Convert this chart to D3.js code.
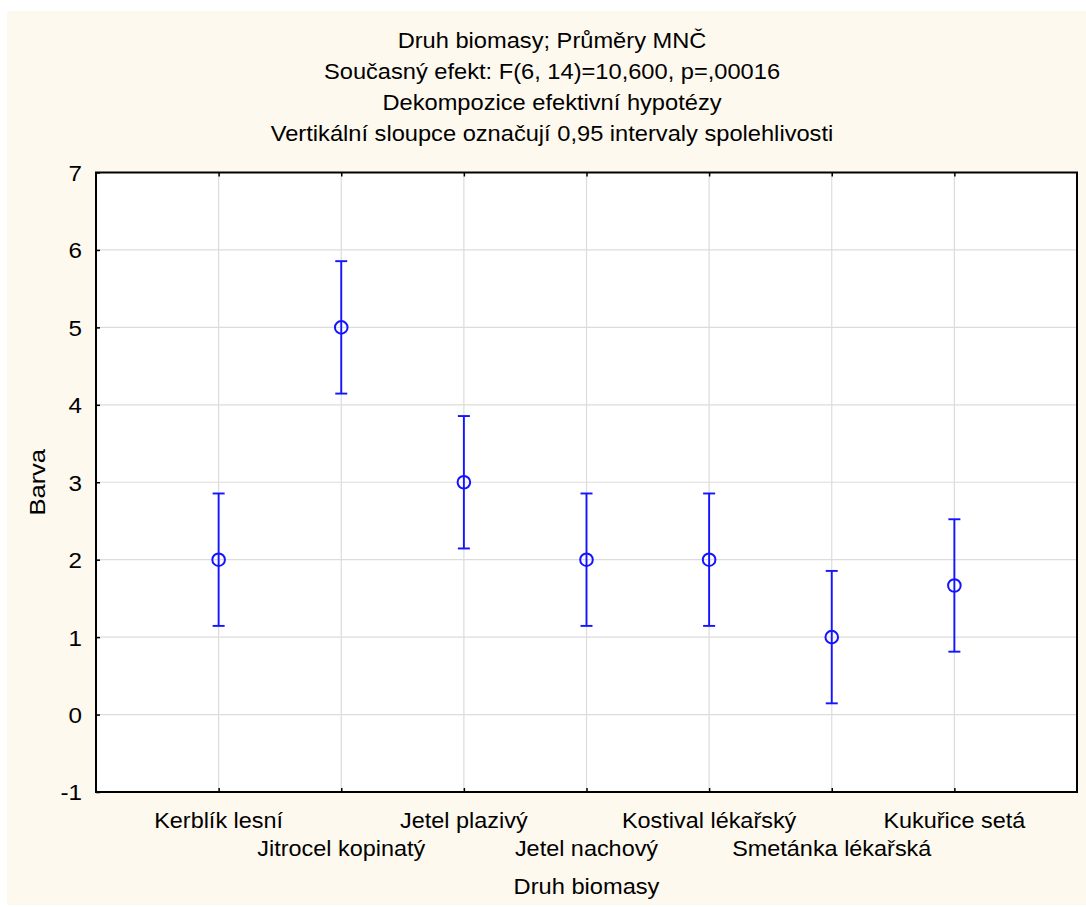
<!DOCTYPE html>
<html><head><meta charset="utf-8">
<script src="https://cdn.jsdelivr.net/npm/d3@7"></script>
<style>html,body{margin:0;padding:0;background:#fff;}svg{display:block;}text{font-family:"Liberation Sans",Arial,sans-serif;fill:#000;}</style>
</head><body>
<script>
const categories = ["Kerblík lesní","Jitrocel kopinatý","Jetel plazivý","Jetel nachový","Kostival lékařský","Smetánka lékařská","Kukuřice setá"];
const means = [2, 5, 3, 2, 2, 1, 1.667];
const ciLow = [1.145, 4.145, 2.145, 1.145, 1.145, 0.145, 0.812];
const ciHigh = [2.855, 5.855, 3.855, 2.855, 2.855, 1.855, 2.522];
const yTicks = [-1, 0, 1, 2, 3, 4, 5, 6, 7];
const titleLines = ["Druh biomasy; Průměry MNČ","Současný efekt: F(6, 14)=10,600, p=,00016","Dekompozice efektivní hypotézy","Vertikální sloupce označují 0,95 intervaly spolehlivosti"];
const xTitle = "Druh biomasy";
const yTitle = "Barva";

const W = 1086, H = 907;
const L = 96, R = 1077, T = 172.5, B = 792;
const FS = 21.5;

const svg = d3.select("body").append("svg").attr("width", W).attr("height", H);
svg.append("rect").attr("x", 7).attr("y", 11).attr("width", W - 7).attr("height", 894).attr("fill", "#fef9ee");

const x = d3.scaleLinear().domain([0, categories.length + 1]).range([L, R]);
const y = d3.scaleLinear().domain([-1, 7]).range([B, T]);

svg.append("rect").attr("x", L).attr("y", T).attr("width", R - L).attr("height", B - T).attr("fill", "#fff");

const g = svg.append("g");
g.selectAll(".hg").data(yTicks.slice(1, -1)).join("line")
  .attr("x1", L).attr("x2", R).attr("y1", d => y(d)).attr("y2", d => y(d))
  .attr("stroke", "#dcdcdc").attr("stroke-width", 1.2);
g.selectAll(".vg").data(categories).join("line")
  .attr("x1", (d, i) => x(i + 1)).attr("x2", (d, i) => x(i + 1)).attr("y1", T).attr("y2", B)
  .attr("stroke", "#dcdcdc").attr("stroke-width", 1.2);

const yAxis = d3.axisLeft(y).tickValues(yTicks).tickSize(-4).tickFormat("");
const ya = svg.append("g").attr("transform", `translate(${L},0)`).call(yAxis);
ya.select(".domain").remove();
ya.selectAll(".tick line").attr("stroke", "#000").attr("stroke-width", 1.5);
ya.selectAll(".tick").append("text")
  .attr("transform", `translate(-14,0) scale(1.1,1)`)
  .attr("text-anchor", "end").attr("dy", "0.36em").attr("font-size", 22)
  .attr("font-family", '"Liberation Sans",Arial,sans-serif').attr("fill", "#000")
  .text(d => String(d));

const xAxis = d3.axisBottom(x).tickValues(d3.range(1, categories.length + 1)).tickSize(-4).tickFormat("");
const xa = svg.append("g").attr("transform", `translate(0,${B})`).call(xAxis);
xa.select(".domain").remove();
xa.selectAll(".tick line").attr("stroke", "#000").attr("stroke-width", 1.5);
const xt = d3.axisTop(x).tickValues(d3.range(1, categories.length + 1)).tickSize(-4).tickFormat("");
const xta = svg.append("g").attr("transform", `translate(0,${T})`).call(xt);
xta.select(".domain").remove();
xta.selectAll(".tick line").attr("stroke", "#000").attr("stroke-width", 1.5);

svg.append("rect").attr("x", L).attr("y", T).attr("width", R - L).attr("height", B - T)
  .attr("fill", "none").attr("stroke", "#000").attr("stroke-width", 2);

svg.selectAll(".cl").data(categories).join("text")
  .attr("transform", (d, i) => `translate(${x(i + 1)},${i % 2 === 0 ? 828 : 856}) scale(1.09,1)`)
  .attr("text-anchor", "middle").attr("font-size", FS).text(d => d);

const blue = "#1414ff";
const eb = svg.append("g").selectAll("g").data(categories).join("g");
eb.append("line").attr("x1", (d, i) => x(i + 1)).attr("x2", (d, i) => x(i + 1))
  .attr("y1", (d, i) => y(ciLow[i])).attr("y2", (d, i) => y(ciHigh[i])).attr("stroke", blue).attr("stroke-width", 1.9);
eb.append("line").attr("x1", (d, i) => x(i + 1) - 6).attr("x2", (d, i) => x(i + 1) + 6)
  .attr("y1", (d, i) => y(ciHigh[i])).attr("y2", (d, i) => y(ciHigh[i])).attr("stroke", blue).attr("stroke-width", 1.9);
eb.append("line").attr("x1", (d, i) => x(i + 1) - 6).attr("x2", (d, i) => x(i + 1) + 6)
  .attr("y1", (d, i) => y(ciLow[i])).attr("y2", (d, i) => y(ciLow[i])).attr("stroke", blue).attr("stroke-width", 1.9);
eb.append("circle").attr("cx", (d, i) => x(i + 1)).attr("cy", (d, i) => y(means[i])).attr("r", 6.3)
  .attr("fill", "none").attr("stroke", blue).attr("stroke-width", 2);

svg.selectAll(".tt").data(titleLines).join("text")
  .attr("transform", (d, i) => `translate(552,${47.5 + i * 31}) scale(1.1,1)`)
  .attr("text-anchor", "middle").attr("font-size", FS).text(d => d);

svg.append("text").attr("transform", `translate(${(L + R) / 2},894) scale(1.1,1)`)
  .attr("text-anchor", "middle").attr("font-size", FS).text(xTitle);
svg.append("text").attr("transform", `translate(45,${(T + B) / 2}) rotate(-90) scale(1.16,1)`)
  .attr("text-anchor", "middle").attr("font-size", 22).text(yTitle);
</script>
</body></html>
